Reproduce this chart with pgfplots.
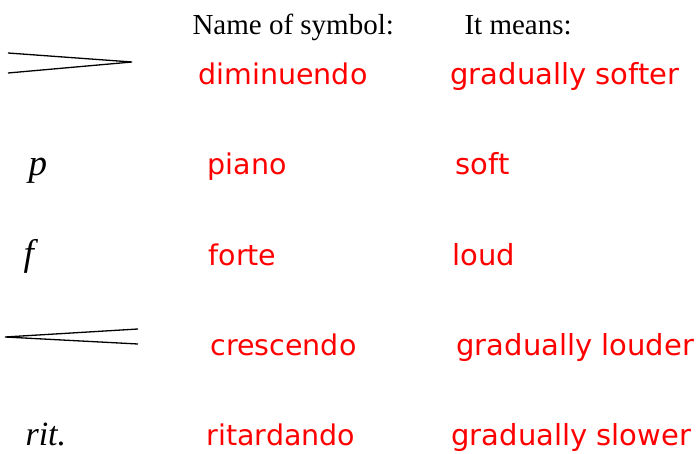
\documentclass[border=0pt]{standalone}
\usepackage{fontspec}
\setmainfont{Liberation Serif}
\newfontfamily\redfont{DejaVu Sans}
\usepackage{pgfplots}
\pgfplotsset{compat=1.18}

\begin{document}
\begin{tikzpicture}
\begin{axis}[
  name=ax,
  scale only axis,
  width=697pt, height=454pt,
  xmin=0, xmax=697,
  ymin=0, ymax=454,
  y dir=reverse,
  hide axis,
  clip=false,
  every node/.style={inner sep=0pt, outer sep=0pt},
]
% hairpins
\addplot[black, line width=1.3pt] coordinates { (8,53) (132,62) (8,73) };
\addplot[black, line width=1.3pt] coordinates { (138,329) (5,337) (138,344) };

% headers
\node[anchor=base west, font=\fontsize{29}{34}\selectfont] at (axis cs:189,35) {Name of symbol:};
\node[anchor=base west, font=\fontsize{29}{34}\selectfont] at (axis cs:461,35) {It means:};

% symbols
\node[anchor=base west, font=\fontsize{37}{40}\selectfont\itshape] at (axis cs:25,176) {p};
\node[anchor=base west, font=\fontsize{37}{40}\selectfont\itshape] at (axis cs:20,266) {f};
\node[anchor=base west, font=\fontsize{34}{40}\selectfont\itshape] at (axis cs:22,446) {rit.};

% names (left) and meanings (right)
\tikzset{
  name text/.style={anchor=base west, text=red, font=\redfont\fontsize{28.5}{34}\selectfont},
  mean text/.style={anchor=base west, text=red, font=\redfont\fontsize{29}{34}\selectfont}}
\node[name text] at (axis cs:195,85)  {diminuendo};
\node[mean text] at (axis cs:447,85)  {gradually softer};
\node[name text] at (axis cs:204,175) {piano};
\node[mean text] at (axis cs:452,175) {soft};
\node[name text] at (axis cs:205,266) {forte};
\node[mean text] at (axis cs:449,266) {loud};
\node[name text] at (axis cs:207,356) {crescendo};
\node[mean text] at (axis cs:453,356) {gradually louder};
\node[name text] at (axis cs:203,446) {ritardando};
\node[mean text] at (axis cs:448,446) {gradually slower};
\end{axis}
\pgfresetboundingbox
\path[use as bounding box] (ax.south west) rectangle (ax.north east);
\end{tikzpicture}
\end{document}
